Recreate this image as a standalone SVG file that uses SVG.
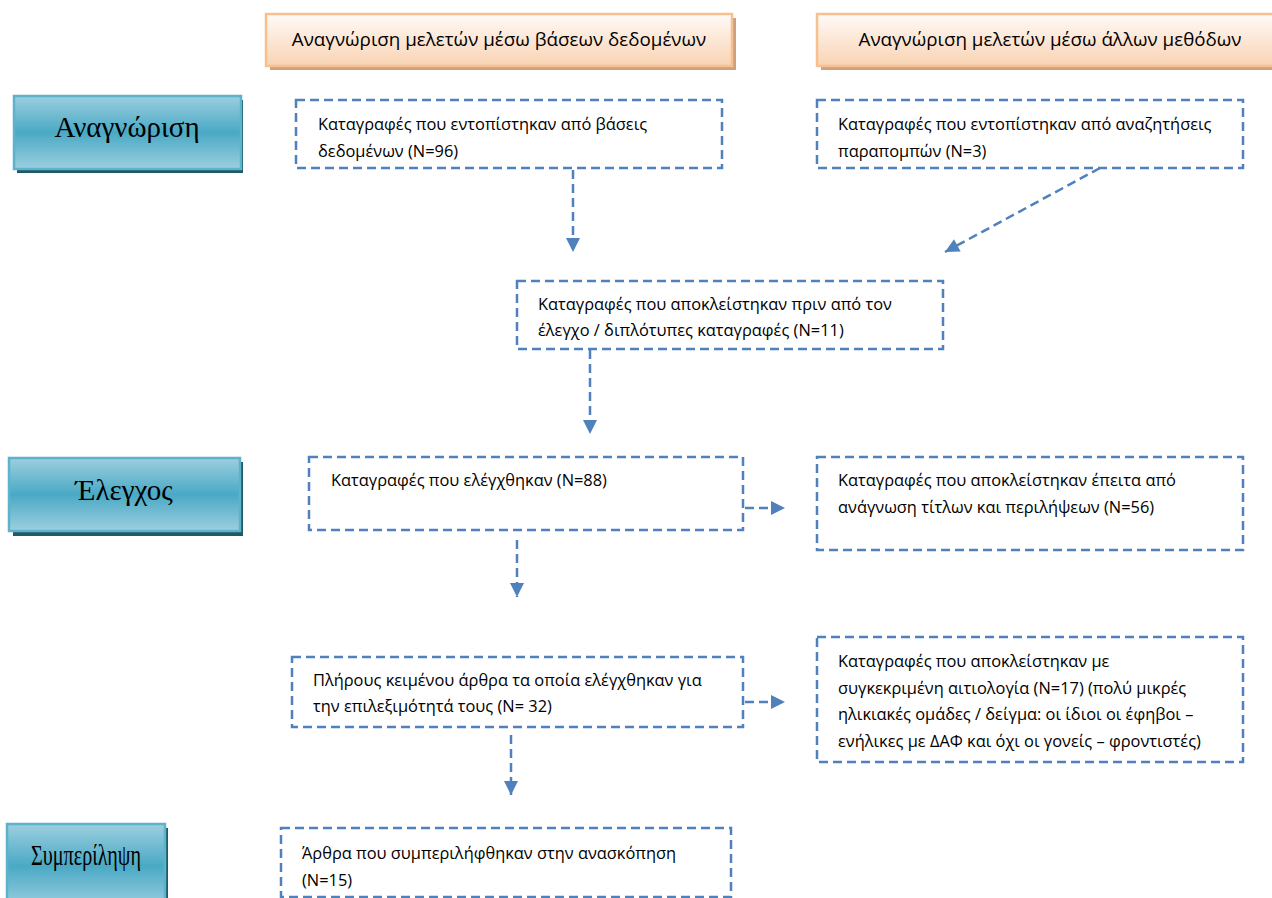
<svg xmlns="http://www.w3.org/2000/svg" width="1272" height="898" viewBox="0 0 1272 898">
<style>
.dbox{fill:#ffffff;stroke:#4f81bd;stroke-width:2.5;stroke-dasharray:9 5}
.conn{fill:none;stroke:#4f81bd;stroke-width:2.5;stroke-dasharray:9 5}
.t{font-family:"Open Sans","Liberation Sans",sans-serif;font-size:16.4px;fill:#000}
.h{font-family:"Open Sans","Liberation Sans",sans-serif;font-size:18.8px;fill:#000;text-anchor:middle}
.stage{font-family:"Liberation Serif","DejaVu Serif",serif;font-size:29px;fill:#000;text-anchor:middle}
.sbox{fill:url(#gStage);stroke:#5db3cc;stroke-width:2.5}
.sshadow{fill:#215a67}
.hbox{fill:url(#gHead);stroke:#f8bf8f;stroke-width:2.5}
.hshadow{fill:#cda080}
</style>
<defs>
<linearGradient id="gStage" x1="0" y1="0" x2="0" y2="1">
<stop offset="0" stop-color="#9ccfdf"/>
<stop offset="0.5" stop-color="#4aa9c5"/>
<stop offset="1" stop-color="#9ccfdf"/>
</linearGradient>
<linearGradient id="gHead" x1="0" y1="0" x2="0" y2="1">
<stop offset="0" stop-color="#fffaf7"/>
<stop offset="1" stop-color="#f9d3b3"/>
</linearGradient>
<marker id="ah" markerUnits="userSpaceOnUse" markerWidth="16" markerHeight="16" viewBox="0 0 16 16" refX="15" refY="8" orient="auto">
<path d="M1,1 L15,8 L1,15 Z" fill="#4f81bd"/>
</marker>
</defs>

<g id="header-db">
<rect class="hshadow" x="270" y="18" width="466" height="52"/>
<rect class="hbox" x="266" y="14" width="466" height="52"/>
<text class="h" x="499" y="46">Αναγνώριση μελετών μέσω βάσεων δεδομένων</text>
</g>
<g id="header-other">
<rect class="hshadow" x="821" y="18" width="460" height="52"/>
<rect class="hbox" x="817" y="14" width="460" height="52"/>
<text class="h" x="1050" y="46">Αναγνώριση μελετών μέσω άλλων μεθόδων</text>
</g>

<g id="stage-identification">
<rect class="sshadow" x="17" y="100" width="226" height="73"/>
<rect class="sbox" x="14" y="96" width="227" height="73"/>
<text class="stage" x="127" y="137">Αναγνώριση</text>
</g>
<g id="stage-screening">
<rect class="sshadow" x="13" y="462" width="230" height="74"/>
<rect class="sbox" x="9" y="458" width="231" height="73"/>
<text class="stage" x="124" y="500">Έλεγχος</text>
</g>
<g id="stage-included">
<rect class="sshadow" x="10" y="828" width="158" height="80"/>
<rect class="sbox" x="7" y="824" width="158" height="84"/>
<text class="stage" x="86" y="865" textLength="110" lengthAdjust="spacingAndGlyphs">Συμπερίληψη</text>
</g>

<g id="box-db">
<rect class="dbox" x="296" y="100" width="426" height="68"/>
<text class="t" x="318" y="130">Καταγραφές που εντοπίστηκαν από βάσεις</text>
<text class="t" x="318" y="157">δεδομένων (N=96)</text>
</g>
<g id="box-other">
<rect class="dbox" x="817" y="100" width="426" height="68"/>
<text class="t" x="838" y="130">Καταγραφές που εντοπίστηκαν από αναζητήσεις</text>
<text class="t" x="838" y="157">παραπομπών (N=3)</text>
</g>
<g id="box-removed">
<rect class="dbox" x="517" y="281" width="426" height="68"/>
<text class="t" x="538" y="310">Καταγραφές που αποκλείστηκαν πριν από τον</text>
<text class="t" x="538" y="336">έλεγχο / διπλότυπες καταγραφές (N=11)</text>
</g>
<g id="box-screened">
<rect class="dbox" x="309" y="457" width="434" height="73"/>
<text class="t" x="331" y="486">Καταγραφές που ελέγχθηκαν (N=88)</text>
</g>
<g id="box-excluded1">
<rect class="dbox" x="817" y="457" width="426" height="93"/>
<text class="t" x="838" y="486">Καταγραφές που αποκλείστηκαν έπειτα από</text>
<text class="t" x="838" y="513">ανάγνωση τίτλων και περιλήψεων (N=56)</text>
</g>
<g id="box-fulltext">
<rect class="dbox" x="292" y="657" width="451" height="70"/>
<text class="t" x="313" y="686">Πλήρους κειμένου άρθρα τα οποία ελέγχθηκαν για</text>
<text class="t" x="313" y="712">την επιλεξιμότητά τους (N= 32)</text>
</g>
<g id="box-excluded2">
<rect class="dbox" x="817" y="637" width="426" height="125"/>
<text class="t" x="838" y="667"> Καταγραφές που αποκλείστηκαν με</text>
<text class="t" x="838" y="694">συγκεκριμένη αιτιολογία (N=17) (πολύ μικρές</text>
<text class="t" x="838" y="720">ηλικιακές ομάδες / δείγμα: οι ίδιοι οι έφηβοι –</text>
<text class="t" x="838" y="747">ενήλικες με ΔΑΦ και όχι οι γονείς – φροντιστές)</text>
</g>
<g id="box-included">
<rect class="dbox" x="281" y="828" width="450" height="69"/>
<text class="t" x="302" y="859">Άρθρα που συμπεριλήφθηκαν στην ανασκόπηση</text>
<text class="t" x="302" y="886">(N=15)</text>
</g>

<g id="connectors">
<line class="conn" x1="573" y1="170" x2="573" y2="252" marker-end="url(#ah)"/>
<line class="conn" x1="1100" y1="168" x2="945" y2="252" marker-end="url(#ah)"/>
<line class="conn" x1="590" y1="350" x2="590" y2="434" marker-end="url(#ah)"/>
<line class="conn" x1="745" y1="508" x2="785" y2="508" marker-end="url(#ah)"/>
<line class="conn" x1="517" y1="540" x2="517" y2="597" marker-end="url(#ah)"/>
<line class="conn" x1="745" y1="702" x2="785" y2="702" marker-end="url(#ah)"/>
<line class="conn" x1="511" y1="735" x2="511" y2="795" marker-end="url(#ah)"/>
</g>
</svg>
